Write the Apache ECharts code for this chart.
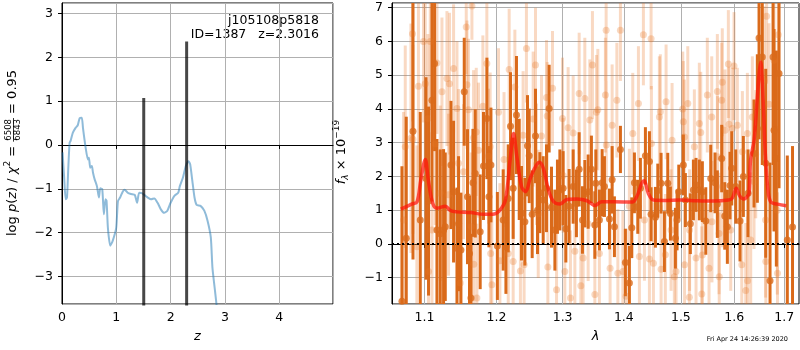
<!DOCTYPE html>
<html>
<head>
<meta charset="utf-8">
<script src="https://cdn.jsdelivr.net/npm/echarts@6.0.0/dist/echarts.min.js"></script>
<style>
html, body { margin: 0; padding: 0; background: #fff; }
#panel { width: 800px; height: 350px; }
</style>
</head>
<body>
<div id="panel"></div>
<script>
var FONT = 'DejaVu Sans';

/** p(z) 曲线 */
var pzGrid = [0.01, 0.04, 0.068, 0.092, 0.115, 0.14, 0.16, 0.20, 0.25, 0.29, 0.325, 0.365, 0.386, 0.435, 0.477, 0.496, 0.52, 0.55, 0.57, 0.60, 0.643, 0.68, 0.704, 0.741, 0.771, 0.80, 0.82, 0.845, 0.888, 0.93, 0.998, 1.03, 1.07, 1.12, 1.155, 1.21, 1.27, 1.34, 1.383, 1.42, 1.47, 1.536, 1.58, 1.64, 1.70, 1.76, 1.82, 1.88, 1.94, 2.0, 2.07, 2.14, 2.17, 2.23, 2.28, 2.33, 2.36, 2.40, 2.44, 2.48, 2.55, 2.62, 2.68, 2.74, 2.77, 2.81, 2.85, 2.90];
var pzLog = [-0.17, -0.75, -1.24, -1.20, -0.55, 0.05, 0.10, 0.28, 0.39, 0.45, 0.61, 0.62, 0.39, -0.06, -0.33, -0.29, -0.52, -0.48, -0.63, -0.78, -0.94, -1.20, -0.99, -1.01, -1.58, -1.24, -1.27, -1.89, -2.30, -2.20, -1.89, -1.28, -1.20, -1.06, -1.02, -1.09, -1.12, -1.14, -1.32, -1.09, -1.10, -1.16, -1.20, -1.24, -1.22, -1.32, -1.47, -1.55, -1.50, -1.32, -1.16, -1.09, -0.94, -0.73, -0.48, -0.37, -0.44, -0.82, -1.20, -1.37, -1.39, -1.50, -1.73, -2.11, -2.80, -3.25, -3.70, -4.30];
var peakZ = [1.505, 2.295];
var peakLog = [1.07, 2.36];

/** 光谱 */
var modelWave = [1.069, 1.083, 1.090, 1.095, 1.101, 1.105, 1.111, 1.117, 1.128, 1.135, 1.144, 1.163, 1.181, 1.197, 1.205, 1.213, 1.220, 1.225, 1.230, 1.237, 1.243, 1.250, 1.258, 1.264, 1.270, 1.278, 1.286, 1.296, 1.307, 1.323, 1.339, 1.352, 1.363, 1.383, 1.414, 1.422, 1.431, 1.435, 1.442, 1.451, 1.469, 1.499, 1.529, 1.560, 1.589, 1.596, 1.604, 1.611, 1.619, 1.625, 1.629, 1.632, 1.639, 1.645, 1.649, 1.652, 1.657, 1.661, 1.666, 1.672, 1.686, 1.704];
var modelFlux = [1.03, 1.18, 1.25, 1.89, 2.50, 1.89, 1.20, 1.06, 1.12, 0.99, 0.95, 0.93, 0.88, 0.89, 1.00, 1.30, 2.49, 3.27, 2.58, 1.70, 1.55, 1.94, 2.29, 2.42, 2.24, 1.60, 1.25, 1.18, 1.32, 1.33, 1.28, 1.14, 1.25, 1.25, 1.24, 1.40, 1.81, 1.87, 1.50, 1.30, 1.29, 1.30, 1.28, 1.27, 1.30, 1.35, 1.65, 1.41, 1.33, 1.40, 1.50, 2.49, 3.08, 4.26, 5.05, 5.39, 4.26, 2.78, 1.70, 1.25, 1.18, 1.13];

var darkWave = [1.0703, 1.0759, 1.0847, 1.0943, 1.1019, 1.1053, 1.1099, 1.1134, 1.1166, 1.1211, 1.1256, 1.1279, 1.1357, 1.1393, 1.1440, 1.1462, 1.1495, 1.1541, 1.1587, 1.1615, 1.1635, 1.1663, 1.1696, 1.1766, 1.1813, 1.1862, 1.1891, 1.1920, 1.2013,
  1.2098, 1.2138, 1.2172, 1.2206, 1.2245, 1.2294, 1.2335, 1.2369, 1.2420, 1.2459, 1.2485, 1.2530, 1.2580, 1.2611, 1.2647, 1.2698, 1.2749, 1.2790, 1.2826, 1.2879, 1.2919, 1.2957, 1.3008, 1.3051, 1.3103, 1.3167, 1.3219, 1.3263, 1.3316, 1.3354, 1.3408, 1.3461, 1.3517, 1.3533,
  1.3592, 1.3637, 1.3675, 1.3758, 1.3803, 1.3841, 1.3942, 1.4026, 1.4094, 1.4135, 1.4180, 1.4238, 1.4283, 1.4370, 1.4440, 1.4469, 1.4545, 1.4587, 1.4645, 1.4704, 1.4764, 1.4811, 1.4901, 1.4931, 1.4962, 1.5045, 1.5082, 1.5173, 1.5229, 1.5278, 1.5339,
  1.5395, 1.5459, 1.5552, 1.5633, 1.5677, 1.5760, 1.5818, 1.5868, 1.5919, 1.5952, 1.6030, 1.6113, 1.6178, 1.6270, 1.6388, 1.6454, 1.6488, 1.6553, 1.6622, 1.6709, 1.6770, 1.6790, 1.6837, 1.6892, 1.7062, 1.7170];
var darkFlux = [-1.70, 0.17, 3.34, 0.71, 1.94, 1.27, 4.26, 5.35, 0.41, 0.30, 0.41, 0.51, 2.34, 1.55, -0.13, 0.60, -0.18, 4.51, 1.40, -0.28, -1.60, 1.81, 2.09, 0.36, 2.31, 3.72, 1.40, 2.34, -0.06,
  0.71, -0.08, 1.35, 3.49, 1.65, 3.82, 2.21, 0.91, 0.66, 2.91, 2.61, 0.88, 3.20, 1.00, 1.52, 1.30, 1.65, 4.01, 1.09, 0.41, 1.40, 1.60, 1.65, 0.45, 1.12, 1.70, 1.20, 2.21, 0.71, 1.49, 1.55, 2.21, 0.56, 1.80,
  0.71, 1.81, 1.70, 0.74, 1.90, 0.51, 2.80, -0.55, -1.16, 0.48, 1.81, 1.10, 1.65, 2.61, 2.44, 0.88, 0.79, 1.58, 1.80, 0.07, 1.80, 0.90, 0.17, 0.71, 1.55, 2.34, 1.30, 0.60, 1.60, 1.75, 1.60,
  1.55, 0.68, 1.94, 1.81, 1.18, 2.53, 0.83, 0.51, 1.73, 2.24, 1.70, 0.68, 2.00, 1.50, 2.68, 3.42, 6.10, 5.54, 2.39, -1.09, 5.54, 3.37, 2.53, 5.05, 0.12, 0.50];
var darkErr = [4.0, 3.6, 3.8, 3.2, 3.0, 2.8, 3.0, 2.6, 2.7, 2.5, 2.4, 2.2, 1.9, 2.1, 1.8, 2.0, 1.7, 1.6, 2.0, 1.7, 1.9, 1.6, 1.9, 1.7, 1.6, 1.8, 1.5, 1.7, 1.6,
  1.5, 1.4, 1.6, 1.6, 1.5, 1.75, 1.5, 1.4, 1.3, 1.5, 1.4, 1.3, 1.4, 1.3, 1.2, 1.3, 1.3, 1.3, 1.2, 1.2, 1.1, 1.2, 1.1, 1.0, 1.1, 1.1, 1.0, 1.1, 1.0, 1.0, 1.1, 1.0, 1.0, 1.0,
  0.9, 1.0, 0.9, 0.9, 1.0, 0.9, 0.7, 1.0, 1.1, 0.9, 0.9, 0.8, 0.9, 0.85, 0.9, 0.8, 0.9, 0.8, 0.9, 0.9, 0.9, 0.8, 0.9, 0.9, 0.8, 0.9, 0.8, 0.9, 0.9, 0.8, 0.9,
  0.9, 1.0, 1.0, 0.9, 1.0, 1.0, 1.0, 1.1, 1.0, 1.1, 1.1, 1.2, 1.2, 1.3, 1.6, 2.2, 3.0, 3.2, 2.8, 3.5, 3.2, 3.0, 3.2, 3.4, 2.5, 2.4];

var lightWave = [1.0724, 1.0746, 1.0820, 1.0841, 1.0846, 1.0898, 1.0919, 1.0986, 1.1009, 1.1045, 1.1053, 1.1076, 1.1099, 1.1143, 1.1166, 1.1211, 1.1234, 1.1302, 1.1324, 1.1337, 1.1393, 1.1440, 1.1462, 1.1485, 1.1531, 1.1569, 1.1579, 1.1601, 1.1639, 1.1649, 1.1672, 1.1675, 1.1710, 1.1719, 1.1742, 1.1804, 1.1861, 1.1885, 1.1909, 1.1916, 1.1933,
  1.2030, 1.2050, 1.2110,
  1.2172, 1.2186, 1.2245, 1.2270, 1.2353, 1.2393, 1.2408, 1.2443, 1.2545, 1.2580, 1.2596, 1.2622, 1.2672, 1.2749, 1.2760, 1.2770, 1.2842, 1.2905, 1.2998, 1.3008, 1.3035, 1.3087, 1.3124, 1.3167, 1.3194, 1.3263, 1.3290, 1.3327, 1.3354, 1.3408, 1.3435, 1.3478, 1.3517, 1.3543,
  1.3566, 1.3592, 1.3691, 1.3703, 1.3706, 1.3769, 1.3803, 1.3882, 1.3899, 1.3942, 1.3983, 1.4038, 1.4094, 1.4152, 1.4249, 1.4266, 1.4335, 1.4353, 1.4440, 1.4469, 1.4475, 1.4510, 1.4615, 1.4632, 1.4645, 1.4721, 1.4734, 1.4823, 1.4841, 1.4882, 1.4913, 1.5034, 1.5045, 1.5063, 1.5067, 1.5126, 1.5155, 1.5159, 1.5247, 1.5278, 1.5339,
  1.5365, 1.5384, 1.5395, 1.5488, 1.5520, 1.5571, 1.5575, 1.5677, 1.5681, 1.5709, 1.5713, 1.5760, 1.5771, 1.5775, 1.5823, 1.5887, 1.5900, 1.5933, 1.5964, 1.5997, 1.6061, 1.6147, 1.6159, 1.6225, 1.6257, 1.6261, 1.6323, 1.6355, 1.6388, 1.6422, 1.6586, 1.6620, 1.6624, 1.6640, 1.6689, 1.6790, 1.6856, 1.6860, 1.6876];
var lightFlux = [0.71, 2.88, 3.13, 6.23, 3.10, -0.08, 4.67, 6.00, 4.75, 3.72, -0.82, 6.00, 0.41, 2.96, 5.36, 1.50, 4.51, 4.90, 1.46, 4.75, 5.20, 4.01, 2.39, -1.16, 2.14, 6.43, 4.72, 3.98, 0.51, 7.05, 3.15, -0.60, 3.32, -1.60, 2.78, 4.08, 5.35, 2.60, 2.88, -0.28, -1.21,
  3.90, -0.50, 2.50,
  -0.28, 5.17, -0.52, 4.65, -0.80, 3.22, -0.62, 5.79, 3.70, 5.30, 2.36, 0.89, 3.20, 4.34, 3.79, -0.68, 4.61, -1.36, 3.72, 2.03, -0.82, 3.44, -1.60, 3.29, -0.22, 4.46, -1.24, -0.42, 4.31, 0.60, 3.67, 5.30, -1.50, 3.90,
  3.98, -0.28, 4.41, 6.33, 2.93, -0.72, 3.52, 4.26, -0.87, 6.33, -0.82, -1.55, 1.12, 3.27, 4.16, -0.37, 6.20, 0.71, -0.45, 6.08, 2.98, -0.57, 3.76, 3.92, -0.75, -0.32, 4.21, 0.41, 3.07, -0.97, -0.82, 4.00, 3.62, 3.17, -0.62, 4.16, -1.58, 0.41, 2.88, -0.42, 3.57,
  3.30, -1.48, -0.33, 4.41, -0.72, 3.76, 0.66, 4.52, 2.58, 0.31, -0.97, 4.26, 4.79, 1.70, 3.37, 5.33, 3.55, 0.41, 3.42, 5.27, 3.52, -0.62, 2.73, -1.38, 3.27, -1.09, 0.12, 3.76, 1.85, 2.66, 4.84, 0.71, -0.52, 6.75, 4.14, 5.44, 1.00, -0.87, 6.20];
var lightErr = [3.2, 3.0, 3.4, 2.6, 2.8, 3.0, 2.7, 2.4, 2.6, 2.5, 2.8, 2.2, 2.9, 2.4, 2.1, 2.6, 2.2, 2.0, 2.4, 2.1, 1.9, 2.0, 2.2, 2.3, 2.0, 1.4, 1.9, 2.1, 2.2, 1.0, 2.0, 2.3, 1.9, 2.2, 2.0, 2.1, 1.8, 2.0, 2.2, 2.4, 2.1,
  1.9, 2.3, 2.0,
  2.0, 1.8, 2.1, 1.7, 2.2, 1.9, 2.0, 1.6, 2.0, 1.7, 1.8, 1.9, 1.8, 1.7, 1.6, 1.9, 1.7, 2.1, 1.8, 1.7, 2.0, 1.8, 2.0, 1.7, 2.1, 1.8, 1.9, 1.9, 1.8, 1.7, 1.8, 1.6, 2.0, 1.7,
  1.8, 2.0, 1.7, 1.5, 1.9, 2.0, 1.8, 1.7, 1.9, 1.5, 1.8, 2.0, 1.7, 1.8, 1.7, 1.9, 1.5, 1.8, 1.9, 1.5, 1.7, 1.8, 1.8, 1.7, 1.9, 1.8, 1.7, 1.8, 1.7, 1.9, 1.8, 1.7, 1.8, 1.7, 1.8, 1.7, 2.0, 1.8, 1.7, 1.9, 1.8,
  1.8, 2.0, 1.9, 1.7, 1.9, 1.8, 1.8, 1.7, 1.8, 1.8, 1.9, 1.7, 1.6, 1.8, 1.8, 1.6, 1.7, 1.8, 1.8, 1.6, 1.7, 1.9, 1.8, 2.0, 1.8, 1.9, 2.0, 1.8, 2.0, 1.9, 2.2, 2.3, 2.3, 2.0, 2.4, 2.3, 2.5, 2.4, 2.2];

var lamTicks = [1.1, 1.2, 1.3, 1.4, 1.5, 1.6, 1.7];
var lamRange = [1.0575, 1.7305];
var objName = 'j105108p5818';
var objId = 1387;
var zBest = '2.3016';
var chi2 = ['6508', '6843'];
var chi2Ratio = '0.95';
var stamp = 'Fri Apr 24 14:26:39 2020';

function minus(v) { return String(v).replace('-', '\u2212'); }

/** 误差棒 */
function errBar(color, width) {
    return function (params, api) {
        var lo = api.coord([api.value(0), api.value(1) - api.value(2)]);
        var hi = api.coord([api.value(0), api.value(1) + api.value(2)]);
        return {
            type: 'line',
            shape: { x1: lo[0], y1: lo[1], x2: hi[0], y2: hi[1] },
            style: { stroke: color, lineWidth: width }
        };
    };
}

function specData(w, f, e) {
    return w.map(function (x, i) { return [Math.log(x), f[i], e ? e[i] : 0]; });
}

/** 竖排数学标签：逐段排版 */
var ctx = document.createElement('canvas').getContext('2d');
function mathLabel(pieces, cx, cy, size) {
    var kids = [], x = 0;
    pieces.forEach(function (p) {
        var s = p.s || size;
        if (p.frac) {
            ctx.font = s + 'px "' + FONT + '"';
            var w = Math.max(ctx.measureText(p.frac[0]).width, ctx.measureText(p.frac[1]).width);
            kids.push({ type: 'text', x: x + w / 2 + 1, y: -4.5, style: { text: p.frac[0], font: s + 'px "' + FONT + '"', fill: '#000', textAlign: 'center', textVerticalAlign: 'middle' } });
            kids.push({ type: 'text', x: x + w / 2 + 1, y: 5, style: { text: p.frac[1], font: s + 'px "' + FONT + '"', fill: '#000', textAlign: 'center', textVerticalAlign: 'middle' } });
            kids.push({ type: 'line', shape: { x1: x, y1: 0.5, x2: x + w + 2, y2: 0.5 }, style: { stroke: '#000', lineWidth: 0.8 } });
            x += w + 2;
            return;
        }
        var font = (p.it ? 'italic ' : '') + s + 'px "' + FONT + '"';
        ctx.font = font;
        kids.push({ type: 'text', x: x, y: p.dy || 0, style: { text: p.t, font: font, fill: '#000', textAlign: 'left', textVerticalAlign: 'middle' } });
        x += ctx.measureText(p.t).width;
    });
    return { type: 'group', x: cx, y: cy + x / 2, rotation: Math.PI / 2, children: kids };
}

chartDom = document.getElementById('panel');
myChart = echarts.init(chartDom);

var tickStyle = { show: true, length: 4, lineStyle: { color: '#000', width: 1 } };
var gridLine = { show: true, lineStyle: { color: '#b0b0b0', width: 1 } };
var labelStyle = { color: '#000', fontFamily: FONT, fontSize: 12.5 };
var nameStyle = { color: '#000', fontFamily: FONT, fontSize: 13, fontStyle: 'italic' };

var peakSeries = peakZ.map(function (z, i) {
    return {
        type: 'line', xAxisIndex: 0, yAxisIndex: 0, symbol: 'none', silent: true,
        data: [[z, -10], [z, peakLog[i]]],
        lineStyle: { color: 'rgba(0,0,0,0.72)', width: 3 }
    };
});

option = {
    animation: false,
    backgroundColor: '#fff',
    grid: [
        { left: 62, right: 467, top: 3, bottom: 46, show: true, borderColor: '#000', borderWidth: 1 },
        { left: 392, right: 1, top: 3, bottom: 46, show: true, borderColor: '#000', borderWidth: 1 }
    ],
    xAxis: [
        {
            gridIndex: 0, type: 'value', min: 0, max: 4.99, interval: 1,
            name: 'z', nameLocation: 'middle', nameGap: 26, nameTextStyle: nameStyle,
            axisLine: { show: true, lineStyle: { color: '#000' } },
            axisTick: tickStyle, splitLine: gridLine,
            axisLabel: Object.assign({ margin: 7, showMaxLabel: false, formatter: minus }, labelStyle)
        },
        {
            gridIndex: 1, type: 'value', min: Math.log(lamRange[0]), max: Math.log(lamRange[1]),
            name: 'λ', nameLocation: 'middle', nameGap: 26, nameTextStyle: nameStyle,
            axisLine: { show: true, lineStyle: { color: '#000' } },
            axisTick: Object.assign({ customValues: lamTicks.map(Math.log) }, tickStyle),
            splitLine: gridLine,
            axisLabel: Object.assign({
                margin: 7, customValues: lamTicks.map(Math.log),
                formatter: function (v) { return Math.exp(v).toFixed(1); }
            }, labelStyle)
        }
    ],
    yAxis: [
        {
            gridIndex: 0, type: 'value', min: -3.63, max: 3.24, splitNumber: 7,
            axisLine: { show: true, lineStyle: { color: '#000' } },
            axisTick: tickStyle, splitLine: gridLine,
            axisLabel: Object.assign({ margin: 9, showMinLabel: false, showMaxLabel: false, formatter: minus }, labelStyle)
        },
        {
            gridIndex: 1, type: 'value', min: -1.78, max: 7.14, splitNumber: 9,
            axisLine: { show: true, lineStyle: { color: '#000' } },
            axisTick: tickStyle, splitLine: gridLine,
            axisLabel: Object.assign({ margin: 9, showMinLabel: false, showMaxLabel: false, formatter: minus }, labelStyle)
        }
    ],
    series: [
        {
            type: 'line', xAxisIndex: 0, yAxisIndex: 0, symbol: 'none', smooth: 0.2, silent: true,
            data: pzGrid.map(function (z, i) { return [z, pzLog[i]]; }),
            lineStyle: { color: 'rgba(31,119,180,0.5)', width: 2 }
        }
    ].concat(peakSeries).concat([
        {
            type: 'custom', xAxisIndex: 1, yAxisIndex: 1, clip: true, silent: true,
            renderItem: errBar('rgba(232,120,40,0.28)', 3),
            data: specData(lightWave, lightFlux, lightErr)
        },
        {
            type: 'scatter', xAxisIndex: 1, yAxisIndex: 1, symbolSize: 7, silent: true,
            itemStyle: { color: 'rgba(232,120,40,0.36)' },
            data: specData(lightWave, lightFlux)
        },
        {
            type: 'custom', xAxisIndex: 1, yAxisIndex: 1, clip: true, silent: true,
            renderItem: errBar('#da6a1a', 3),
            data: specData(darkWave, darkFlux, darkErr)
        },
        {
            type: 'scatter', xAxisIndex: 1, yAxisIndex: 1, symbolSize: 7, silent: true,
            itemStyle: { color: '#da6a1a' },
            data: specData(darkWave, darkFlux)
        },
        {
            type: 'line', xAxisIndex: 1, yAxisIndex: 1, symbol: 'none', smooth: 0.35, silent: true, z: 5,
            data: specData(modelWave, modelFlux),
            lineStyle: { color: 'rgba(255,20,10,0.72)', width: 3.5 },
            markLine: {
                silent: true, symbol: 'none', label: { show: false }, z: 6,
                lineStyle: { color: '#000', width: 2.2, type: [2, 3], opacity: 1 },
                data: [{ yAxis: 0 }]
            }
        }
    ]),
    graphic: [
        { type: 'text', x: 319, y: 21, style: { text: objName, font: '12.5px "' + FONT + '"', fill: '#000', textAlign: 'right', textVerticalAlign: 'middle' } },
        { type: 'text', x: 319, y: 35, style: { text: 'ID=' + objId + '   z=' + zBest, font: '12.5px "' + FONT + '"', fill: '#000', textAlign: 'right', textVerticalAlign: 'middle' } },
        { type: 'text', x: 788, y: 339, style: { text: stamp, font: '6.5px "' + FONT + '"', fill: '#000', textAlign: 'right', textVerticalAlign: 'middle' } },
        mathLabel([
            { t: 'log ' }, { t: 'p', it: true }, { t: '(' }, { t: 'z', it: true }, { t: ') / ' },
            { t: 'χ', it: true }, { t: '2', s: 9, dy: -5 }, { t: ' = ' },
            { frac: chi2, s: 8.5 }, { t: ' = ' + chi2Ratio }
        ], 13, 153, 13),
        mathLabel([
            { t: 'f', it: true }, { t: 'λ', it: true, s: 9, dy: 4 }, { t: ' × 10' }, { t: '−19', s: 9, dy: -5 }
        ], 342, 152, 13)
    ]
};

myChart.setOption(option);
</script>
</body>
</html>
